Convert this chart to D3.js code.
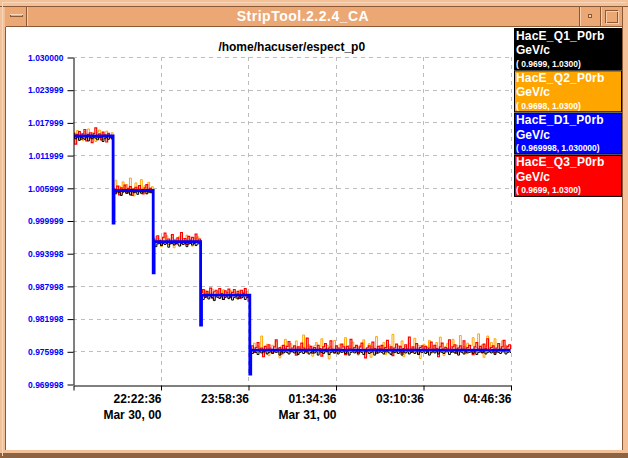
<!DOCTYPE html>
<html>
<head>
<meta charset="utf-8">
<script src="https://d3js.org/d3.v7.min.js"></script>
<style>
body { margin: 0; background: #ffffff; }
text { font-family: "Liberation Sans", Arial, sans-serif; }
</style>
</head>
<body>
<script>
var svgWidth = 628;
var svgHeight = 458;

var windowTitle = "StripTool.2.2.4_CA";
var chartTitle = "/home/hacuser/espect_p0";

var seriesNames = ["HacE_Q1_P0rb", "HacE_Q2_P0rb", "HacE_D1_P0rb", "HacE_Q3_P0rb"];
var seriesUnits = ["GeV/c", "GeV/c", "GeV/c", "GeV/c"];
var seriesRanges = ["( 0.9699, 1.0300)", "( 0.9698, 1.0300)", "( 0.969998, 1.030000)", "( 0.9699, 1.0300)"];
var seriesColors = ["#000000", "#ffa500", "#0000ff", "#ff0000"];

var yTickLabels = ["1.030000", "1.023999", "1.017999", "1.011999", "1.005999", "0.999999",
                   "0.993998", "0.987998", "0.981998", "0.975998", "0.969998"];

var startTime = "2000-03-30 20:46:36";
var endTime = "2000-03-31 04:46:36";
var xTickTimes = ["2000-03-30 22:22:36", "2000-03-30 23:58:36", "2000-03-31 01:34:36",
                  "2000-03-31 03:10:36", "2000-03-31 04:46:36"];
var xTickLabels = ["22:22:36", "23:58:36", "01:34:36", "03:10:36", "04:46:36"];
var xTickDates = ["Mar 30, 00", "", "Mar 31, 00", "", ""];

// Q1, Q2, Q3 are sampled every 2 minutes from startTime
var sampleMinutes = 2;

var q1Values = [
  1.0152, 1.0150, 1.0153, 1.0147, 1.0152, 1.0151, 1.0149, 1.0153, 1.0146, 1.0152, 1.0150, 1.0153, 1.0151, 1.0148, 1.0152, 1.0153, 1.0145, 1.0151, 1.0152, 1.0149, 1.0153, 1.0150,
  1.0052, 1.0049, 1.0053, 1.0051, 1.0046, 1.0052, 1.0053, 1.0050, 1.0052, 1.0047, 1.0053, 1.0051, 1.0052, 1.0048, 1.0053, 1.0050, 1.0052, 1.0053, 1.0049, 1.0052, 1.0051, 1.0053,
  0.9958, 0.9952, 0.9957, 0.9958, 0.9954, 0.9958, 0.9956, 0.9958, 0.9951, 0.9957, 0.9958, 0.9955, 0.9958, 0.9957, 0.9953, 0.9958, 0.9956, 0.9958, 0.9952, 0.9957, 0.9958, 0.9955, 0.9958, 0.9954, 0.9957, 0.9958,
  0.9860, 0.9855, 0.9859, 0.9860, 0.9856, 0.9860, 0.9858, 0.9853, 0.9860, 0.9859, 0.9857, 0.9860, 0.9855, 0.9859, 0.9860, 0.9857, 0.9860, 0.9854, 0.9859, 0.9860, 0.9856, 0.9860, 0.9858, 0.9860, 0.9855, 0.9859, 0.9860,
  0.9759, 0.9756, 0.9759, 0.9758, 0.9754, 0.9759, 0.9757, 0.9759, 0.9759, 0.9755, 0.9758, 0.9759,
  0.9756, 0.9759, 0.9758, 0.9759, 0.9753, 0.9759, 0.9757, 0.9759, 0.9758, 0.9755, 0.9759, 0.9759,
  0.9757, 0.9759, 0.9754, 0.9758, 0.9759, 0.9756, 0.9759, 0.9759, 0.9755, 0.9758, 0.9759, 0.9757,
  0.9759, 0.9753, 0.9759, 0.9758, 0.9756, 0.9759, 0.9759, 0.9754, 0.9758, 0.9759, 0.9757, 0.9759,
  0.9755, 0.9759, 0.9758, 0.9759, 0.9756, 0.9759, 0.9753, 0.9758, 0.9759, 0.9757, 0.9759, 0.9755,
  0.9759, 0.9758, 0.9754, 0.9759, 0.9759, 0.9756, 0.9758, 0.9759, 0.9753, 0.9759, 0.9757, 0.9759,
  0.9758, 0.9755, 0.9759, 0.9759, 0.9757, 0.9754, 0.9759, 0.9758, 0.9759, 0.9756, 0.9759, 0.9753,
  0.9759, 0.9757, 0.9759, 0.9755, 0.9758, 0.9759, 0.9756, 0.9759, 0.9754, 0.9759, 0.9758, 0.9759,
  0.9756, 0.9759, 0.9753, 0.9758, 0.9759, 0.9757, 0.9759, 0.9755, 0.9759, 0.9758, 0.9756, 0.9759,
  0.9759, 0.9754, 0.9758, 0.9759, 0.9757, 0.9759, 0.9753, 0.9759, 0.9758, 0.9755, 0.9759, 0.9757,
  0.9758, 0.9759, 0.9756, 0.9759, 0.9754, 0.9758, 0.9759, 0.9757, 0.9759, 0.9755, 0.9758, 0.9759,
  0.9757, 0.9759, 0.9754, 0.9759, 0.9758, 0.9756, 0.9759, 0.9759, 0.9755, 0.9758, 0.9759, 0.9757
];

var q2Values = [
  1.0161, 1.0158, 1.0165, 1.0152, 1.0160, 1.0147, 1.0163, 1.0159, 1.0168, 1.0150, 1.0161, 1.0157, 1.0145, 1.0162, 1.0166, 1.0154, 1.0160, 1.0149, 1.0164, 1.0158, 1.0153, 1.0161,
  1.0060, 1.0074, 1.0052, 1.0063, 1.0048, 1.0071, 1.0057, 1.0066, 1.0050, 1.0078, 1.0058, 1.0045, 1.0069, 1.0061, 1.0053, 1.0075, 1.0056, 1.0064, 1.0049, 1.0070, 1.0059, 1.0062,
  0.9963, 0.9970, 0.9958, 0.9966, 0.9952, 0.9968, 0.9961, 0.9972, 0.9956, 0.9964, 0.9969, 0.9950, 0.9966, 0.9962, 0.9971, 0.9955, 0.9967, 0.9960, 0.9973, 0.9957, 0.9965, 0.9953, 0.9968, 0.9962, 0.9970, 0.9959,
  0.9866, 0.9861, 0.9872, 0.9858, 0.9869, 0.9863, 0.9874, 0.9855, 0.9867, 0.9870, 0.9859, 0.9865, 0.9873, 0.9860, 0.9868, 0.9856, 0.9871, 0.9864, 0.9869, 0.9857, 0.9866, 0.9872, 0.9861, 0.9868, 0.9863, 0.9870, 0.9858,
  0.9768, 0.9762, 0.9775, 0.9759, 0.9770, 0.9764, 0.9788, 0.9757, 0.9769, 0.9773, 0.9752, 0.9767,
  0.9771, 0.9760, 0.9778, 0.9765, 0.9748, 0.9770, 0.9763, 0.9782, 0.9758, 0.9768, 0.9774, 0.9761,
  0.9766, 0.9779, 0.9755, 0.9769, 0.9762, 0.9790, 0.9764, 0.9757, 0.9772, 0.9767, 0.9751, 0.9770,
  0.9776, 0.9761, 0.9768, 0.9783, 0.9759, 0.9765, 0.9771, 0.9746, 0.9769, 0.9763, 0.9780, 0.9766,
  0.9758, 0.9773, 0.9767, 0.9762, 0.9785, 0.9756, 0.9770, 0.9764, 0.9777, 0.9760, 0.9768, 0.9753,
  0.9771, 0.9766, 0.9781, 0.9759, 0.9767, 0.9774, 0.9749, 0.9769, 0.9763, 0.9787, 0.9761, 0.9770,
  0.9765, 0.9776, 0.9754, 0.9768, 0.9772, 0.9760, 0.9791, 0.9764, 0.9757, 0.9770, 0.9767, 0.9779,
  0.9750, 0.9769, 0.9763, 0.9775, 0.9766, 0.9758, 0.9784, 0.9762, 0.9771, 0.9747, 0.9768, 0.9773,
  0.9761, 0.9767, 0.9780, 0.9756, 0.9770, 0.9764, 0.9776, 0.9759, 0.9786, 0.9765, 0.9752, 0.9769,
  0.9774, 0.9762, 0.9768, 0.9782, 0.9757, 0.9771, 0.9766, 0.9789, 0.9760, 0.9769, 0.9755, 0.9775,
  0.9763, 0.9770, 0.9785, 0.9758, 0.9767, 0.9792, 0.9764, 0.9772, 0.9749, 0.9769, 0.9788, 0.9761,
  0.9776, 0.9766, 0.9783, 0.9759, 0.9770, 0.9765, 0.9779, 0.9762, 0.9771, 0.9767, 0.9763, 0.9766
];

var q3Values = [
  1.0160, 1.0140, 1.0158, 1.0163, 1.0149, 1.0159, 1.0167, 1.0146, 1.0158, 1.0161, 1.0143, 1.0160, 1.0170, 1.0152, 1.0159, 1.0148, 1.0162, 1.0157, 1.0144, 1.0160, 1.0156, 1.0150,
  1.0058, 1.0052, 1.0063, 1.0047, 1.0060, 1.0056, 1.0065, 1.0050, 1.0059, 1.0062, 1.0046, 1.0058, 1.0061, 1.0053, 1.0064, 1.0057, 1.0049, 1.0060, 1.0066, 1.0054, 1.0059, 1.0051,
  0.9966, 0.9960, 0.9972, 0.9963, 0.9955, 0.9969, 0.9977, 0.9961, 0.9966, 0.9958, 0.9974, 0.9964, 0.9957, 0.9968, 0.9962, 0.9978, 0.9960, 0.9967, 0.9956, 0.9971, 0.9963, 0.9969, 0.9959, 0.9975, 0.9962, 0.9966,
  0.9868, 0.9873, 0.9860, 0.9870, 0.9864, 0.9876, 0.9858, 0.9869, 0.9872, 0.9862, 0.9875, 0.9866, 0.9855, 0.9871, 0.9867, 0.9874, 0.9859, 0.9868, 0.9873, 0.9863, 0.9870, 0.9857, 0.9872, 0.9866, 0.9875, 0.9861, 0.9852,
  0.9765, 0.9770, 0.9758, 0.9767, 0.9776, 0.9761, 0.9766, 0.9750, 0.9769, 0.9763, 0.9772, 0.9764,
  0.9757, 0.9768, 0.9781, 0.9762, 0.9767, 0.9755, 0.9771, 0.9764, 0.9769, 0.9778, 0.9760, 0.9766,
  0.9770, 0.9753, 0.9768, 0.9763, 0.9775, 0.9766, 0.9759, 0.9784, 0.9764, 0.9769, 0.9756, 0.9767,
  0.9762, 0.9771, 0.9765, 0.9751, 0.9768, 0.9774, 0.9760, 0.9766, 0.9779, 0.9763, 0.9757, 0.9770,
  0.9766, 0.9761, 0.9773, 0.9768, 0.9754, 0.9769, 0.9764, 0.9782, 0.9762, 0.9767, 0.9771, 0.9758,
  0.9768, 0.9775, 0.9763, 0.9748, 0.9766, 0.9770, 0.9762, 0.9777, 0.9765, 0.9756, 0.9769, 0.9764,
  0.9771, 0.9760, 0.9767, 0.9780, 0.9763, 0.9768, 0.9752, 0.9766, 0.9773, 0.9761, 0.9769, 0.9757,
  0.9765, 0.9772, 0.9764, 0.9786, 0.9759, 0.9768, 0.9762, 0.9774, 0.9755, 0.9767, 0.9770, 0.9763,
  0.9769, 0.9758, 0.9766, 0.9777, 0.9761, 0.9771, 0.9765, 0.9750, 0.9768, 0.9775, 0.9762, 0.9767,
  0.9764, 0.9781, 0.9760, 0.9768, 0.9772, 0.9756, 0.9766, 0.9770, 0.9763, 0.9779, 0.9759, 0.9767,
  0.9771, 0.9762, 0.9754, 0.9768, 0.9776, 0.9764, 0.9769, 0.9758, 0.9773, 0.9765, 0.9783, 0.9761,
  0.9767, 0.9770, 0.9757, 0.9766, 0.9774, 0.9763, 0.9768, 0.9780, 0.9761, 0.9769, 0.9772, 0.9764
];

// D1 only changes at the steps (minutes after startTime)
var d1Minutes = [0, 44, 45, 88, 89, 140, 141, 194, 195, 480];
var d1Values = [1.0155, 0.9995, 1.0055, 0.9904, 0.9961, 0.9808, 0.9863, 0.9718, 0.9762, 0.9762];

var plotLeft = 73;
var plotRight = 510.5;
var plotTop = 57;
var plotBottom = 384;

var parseTime = d3.timeParse("%Y-%m-%d %H:%M:%S");
var t0 = parseTime(startTime);
var t1 = parseTime(endTime);

var svg = d3.select("body")
            .append("svg")
            .attr("width", svgWidth)
            .attr("height", svgHeight);

// ---- window frame ----
var frame = svg.append("g");
frame.append("rect").attr("width", svgWidth).attr("height", svgHeight).attr("fill", "#eca874");
frame.append("rect").attr("x", 0).attr("y", 0).attr("width", svgWidth).attr("height", 6).attr("fill", "#f3c098");
frame.append("rect").attr("x", 0).attr("y", 0).attr("width", 5).attr("height", svgHeight).attr("fill", "#f3c098");
frame.append("rect").attr("x", 623).attr("y", 0).attr("width", 5).attr("height", svgHeight).attr("fill", "#f3c098");
frame.append("rect").attr("x", 0).attr("y", 450).attr("width", svgWidth).attr("height", 3).attr("fill", "#f3c098");
frame.append("rect").attr("x", 0).attr("y", 453).attr("width", svgWidth).attr("height", 5).attr("fill", "#8c6444");

var frameLines = [
    [0, 6.5, 628, 6.5, "#8a5a38"], [6, 26.5, 622, 26.5, "#8a5a38"],
    [26.5, 7, 26.5, 26, "#8a5a38"], [27.5, 7, 27.5, 26, "#f6cfae"],
    [579.5, 7, 579.5, 26, "#8a5a38"], [580.5, 7, 580.5, 26, "#f6cfae"],
    [600.5, 7, 600.5, 26, "#8a5a38"], [601.5, 7, 601.5, 26, "#f6cfae"],
    [5.5, 27, 5.5, 450, "#8a5a38"], [622.5, 6, 622.5, 450, "#8a5a38"],
    [2.5, 2, 2.5, 456, "#f8d6ba"], [2, 2.5, 626, 2.5, "#f8d6ba"]
];
frame.selectAll("line.frame")
     .data(frameLines)
     .enter()
     .append("line")
     .attr("x1", d => d[0]).attr("y1", d => d[1])
     .attr("x2", d => d[2]).attr("y2", d => d[3])
     .attr("stroke", d => d[4])
     .attr("stroke-width", 1);

// buttons
frame.append("rect").attr("x", 10.5).attr("y", 14.5).attr("width", 12).attr("height", 2)
     .attr("fill", "#eca874").attr("stroke", "#8a5a38").attr("stroke-width", 1);
frame.append("line").attr("x1", 10).attr("y1", 14.5).attr("x2", 23).attr("y2", 14.5).attr("stroke", "#f8d6ba");
frame.append("rect").attr("x", 588.5).attr("y", 14.5).attr("width", 3).attr("height", 3)
     .attr("fill", "#f6cfae").attr("stroke", "#8a5a38").attr("stroke-width", 1);
frame.append("rect").attr("x", 605.5).attr("y", 10.5).attr("width", 12).attr("height", 12)
     .attr("fill", "none").attr("stroke", "#8a5a38").attr("stroke-width", 1);
frame.append("rect").attr("x", 606.5).attr("y", 11.5).attr("width", 12).attr("height", 12)
     .attr("fill", "none").attr("stroke", "#f6cfae").attr("stroke-width", 1);

frame.append("text")
     .attr("x", 303)
     .attr("y", 21)
     .attr("text-anchor", "middle")
     .attr("fill", "#ffffff")
     .attr("font-size", "14px")
     .attr("font-weight", "bold")
     .attr("letter-spacing", "0.5px")
     .text(windowTitle);

// white client area
svg.append("rect")
   .attr("x", 6).attr("y", 27)
   .attr("width", 616).attr("height", 423)
   .attr("fill", "#ffffff");

// ---- scales ----
var xScale = d3.scaleTime()
               .domain([t0, t1])
               .range([plotLeft, plotRight]);

var yTicks = yTickLabels.map(Number);
var yScale = d3.scaleLinear()
               .domain([yTicks[yTicks.length - 1], yTicks[0]])
               .range([plotBottom, plotTop]);

var xTicks = xTickTimes.map(parseTime);

// ---- grid ----
var grid = svg.append("g");
grid.selectAll("line.hgrid")
    .data(yTicks.slice(0, yTicks.length - 1))
    .enter()
    .append("line")
    .attr("x1", plotLeft).attr("x2", plotRight)
    .attr("y1", d => Math.round(yScale(d)) + 0.5)
    .attr("y2", d => Math.round(yScale(d)) + 0.5)
    .attr("stroke", "#bdbdbd")
    .attr("stroke-dasharray", "4,4");
grid.selectAll("line.vgrid")
    .data(xTicks)
    .enter()
    .append("line")
    .attr("x1", d => Math.round(xScale(d)) + 0.5)
    .attr("x2", d => Math.round(xScale(d)) + 0.5)
    .attr("y1", plotTop).attr("y2", plotBottom)
    .attr("stroke", "#bdbdbd")
    .attr("stroke-dasharray", "4,4");

// ---- traces ----
svg.append("clipPath")
   .attr("id", "plotClip")
   .append("rect")
   .attr("x", plotLeft + 1).attr("y", plotTop - 2)
   .attr("width", plotRight - plotLeft).attr("height", plotBottom - plotTop + 2);

function sampled(values) {
    return values.map((v, i) => ({ time: d3.timeMinute.offset(t0, i * sampleMinutes), value: v }));
}

var q1Data = sampled(q1Values);
var q2Data = sampled(q2Values);
var q3Data = sampled(q3Values);
var d1Data = d1Values.map((v, i) => ({ time: d3.timeMinute.offset(t0, d1Minutes[i]), value: v }));

var traceLine = d3.line()
                  .x(d => xScale(d.time))
                  .y(d => yScale(d.value))
                  .curve(d3.curveStepAfter);

var traces = svg.append("g").attr("clip-path", "url(#plotClip)");
var drawOrder = [
    { data: q2Data, color: seriesColors[1], width: 1 },
    { data: q3Data, color: seriesColors[3], width: 1.2 },
    { data: q1Data, color: seriesColors[0], width: 1 },
    { data: d1Data, color: seriesColors[2], width: 2.8 }
];
traces.selectAll("path")
      .data(drawOrder)
      .enter()
      .append("path")
      .attr("d", d => traceLine(d.data))
      .attr("fill", "none")
      .attr("stroke", d => d.color)
      .attr("stroke-width", d => d.width);

// ---- axes ----
var leftAxis = d3.axisLeft(yScale)
                 .tickValues(yTicks)
                 .tickFormat((d, i) => yTickLabels[i])
                 .tickSize(6)
                 .tickSizeOuter(0)
                 .tickPadding(4);

var yAxis = svg.append("g")
               .attr("transform", `translate(${plotLeft + 0.5}, 0.5)`)
               .call(leftAxis);
yAxis.select(".domain").attr("stroke", "#000");
yAxis.selectAll(".tick line").attr("stroke", "#000");
yAxis.selectAll(".tick text")
     .attr("fill", "#0000ff")
     .attr("font-family", "Liberation Sans, Arial, sans-serif")
     .attr("font-size", "8.5px")
     .attr("font-weight", "bold");

var bottomAxis = d3.axisBottom(xScale)
                   .tickValues([t0].concat(xTicks))
                   .tickFormat("")
                   .tickSize(5)
                   .tickSizeOuter(0);

var xAxis = svg.append("g")
               .attr("transform", `translate(0.5, ${plotBottom + 1.5})`)
               .call(bottomAxis);
xAxis.select(".domain").attr("stroke", "#000");
xAxis.selectAll(".tick line").attr("stroke", "#000");

var xLabels = svg.append("g");
xLabels.selectAll("text.time")
       .data(xTicks)
       .enter()
       .append("text")
       .attr("x", d => xScale(d) + 1)
       .attr("y", 403)
       .attr("text-anchor", "end")
       .attr("font-size", "12px")
       .attr("font-weight", "bold")
       .attr("fill", "#000")
       .text((d, i) => xTickLabels[i]);
xLabels.selectAll("text.date")
       .data(xTicks)
       .enter()
       .append("text")
       .attr("x", d => xScale(d) + 1)
       .attr("y", 419)
       .attr("text-anchor", "end")
       .attr("font-size", "12px")
       .attr("font-weight", "bold")
       .attr("fill", "#000")
       .text((d, i) => xTickDates[i]);

// chart title
svg.append("text")
   .attr("x", (plotLeft + plotRight) / 2)
   .attr("y", 51)
   .attr("text-anchor", "middle")
   .attr("font-size", "12px")
   .attr("font-weight", "bold")
   .attr("fill", "#000")
   .text(chartTitle);

// ---- legend ----
var legend = svg.append("g")
                .attr("transform", "translate(514, 28)");
var legendItems = legend.selectAll("g")
                        .data(seriesNames)
                        .enter()
                        .append("g")
                        .attr("transform", (d, i) => `translate(0, ${i * 42.3})`);
legendItems.append("rect")
           .attr("x", 0.5).attr("y", 0.5)
           .attr("width", 107).attr("height", 41)
           .attr("fill", (d, i) => seriesColors[i])
           .attr("stroke", "#000")
           .attr("stroke-width", 1);
legendItems.append("text")
           .attr("x", 2).attr("y", 11.5)
           .attr("fill", "#fff")
           .attr("font-size", "12px")
           .attr("font-weight", "bold")
           .attr("letter-spacing", "0.2px")
           .text(d => d);
legendItems.append("text")
           .attr("x", 2).attr("y", 26)
           .attr("fill", "#fff")
           .attr("font-size", "12px")
           .attr("font-weight", "bold")
           .text((d, i) => seriesUnits[i]);
legendItems.append("text")
           .attr("x", 2).attr("y", 38.5)
           .attr("fill", "#fff")
           .attr("font-size", "8.5px")
           .attr("font-weight", "bold")
           .text((d, i) => seriesRanges[i]);
</script>
</body>
</html>
